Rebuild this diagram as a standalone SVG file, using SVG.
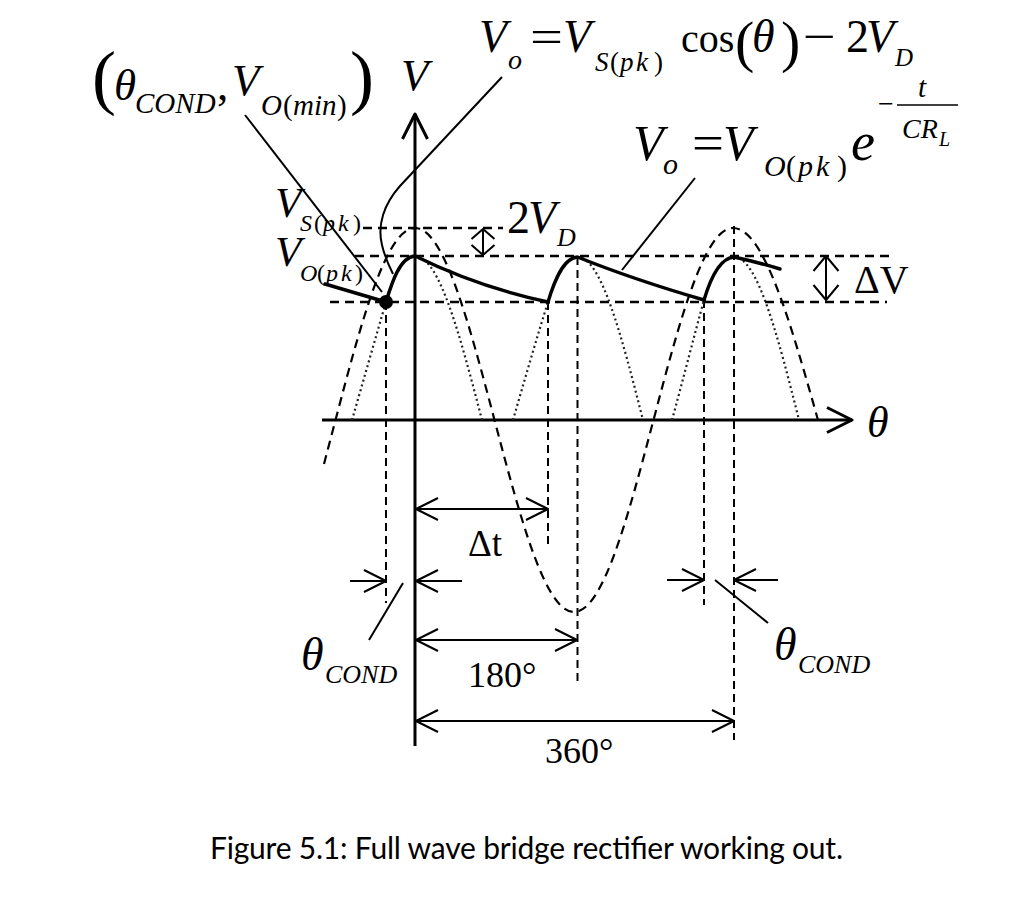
<svg xmlns="http://www.w3.org/2000/svg" width="1026" height="898" viewBox="0 0 1026 898">
<style>
.m{font-family:"Liberation Serif","Times New Roman",serif;fill:#000}
.i{font-style:italic}
.cap{font-family:Lato,"Open Sans","Liberation Sans",sans-serif;fill:#000}
.ax{stroke:#000;stroke-width:3;fill:none}
.hd{stroke:#000;stroke-width:2.5;stroke-dasharray:9 6;fill:none}
.vd{stroke:#000;stroke-width:2;stroke-dasharray:8 5;fill:none}
.sd{stroke:#000;stroke-width:2.2;stroke-dasharray:9 6;fill:none}
.dt{stroke:#222;stroke-width:2.2;stroke-dasharray:2 3;fill:none}
.so{stroke:#000;stroke-width:3.4;fill:none;stroke-linejoin:round;stroke-linecap:round}
.ld{stroke:#000;stroke-width:2;fill:none}
.dm{stroke:#000;stroke-width:2;fill:none}
</style>
<defs>
<marker id="axh" viewBox="-28 -15 30 30" refX="0" refY="0" markerWidth="30" markerHeight="30" markerUnits="userSpaceOnUse" orient="auto"><path d="M-25,-12.5 L0,0 L-25,12.5" fill="none" stroke="#000" stroke-width="3" stroke-linejoin="round"/></marker>
<marker id="oa" viewBox="-25 -14 27 28" refX="0" refY="0" markerWidth="27" markerHeight="28" markerUnits="userSpaceOnUse" orient="auto-start-reverse"><path d="M-22,-11 L0,0 L-22,11" fill="none" stroke="#000" stroke-width="2" stroke-linejoin="round"/></marker>
<marker id="sa" viewBox="-13 -14 15 28" refX="0" refY="0" markerWidth="15" markerHeight="28" markerUnits="userSpaceOnUse" orient="auto-start-reverse"><path d="M-10,-11.5 L0,0 L-10,11.5" fill="none" stroke="#000" stroke-width="2" stroke-linejoin="round"/></marker>
<marker id="ma" viewBox="-18 -15 20 30" refX="0" refY="0" markerWidth="20" markerHeight="30" markerUnits="userSpaceOnUse" orient="auto-start-reverse"><path d="M-15,-12.5 L0,0 L-15,12.5" fill="none" stroke="#000" stroke-width="2" stroke-linejoin="round"/></marker>
</defs>
<rect width="1026" height="898" fill="#fff"/>

<g id="axes">
<line class="ax" x1="415" y1="746" x2="415" y2="114" marker-end="url(#axh)"/>
<line class="ax" x1="322" y1="420" x2="852" y2="420" marker-end="url(#axh)"/>
</g>

<g id="reference-lines">
<line class="hd" x1="363" y1="228" x2="503" y2="228"/>
<line class="hd" x1="355" y1="256" x2="893" y2="256"/>
<line class="hd" x1="330" y1="302" x2="887" y2="302"/>
<line class="vd" x1="386" y1="302" x2="386" y2="603"/>
<line class="vd" x1="548" y1="302" x2="548" y2="547"/>
<line class="vd" x1="577.5" y1="257" x2="577.5" y2="683"/>
<line class="vd" x1="704" y1="300" x2="704" y2="605"/>
<line class="vd" x1="734" y1="226" x2="734" y2="740"/>
</g>

<g id="source-wave">
<path class="sd" d="M324,464 L335.5,420 C361.4,321.6 386.2,228 415,228 C443.8,228 468.6,321.6 494.5,420 C520.4,518.4 545.2,612 574,612 C602.8,612 627.6,518.4 653.5,420 C679.4,321.6 704.2,228 733,228 C763.8,228 790.2,321.6 818,420"/>
</g>

<g id="rectified-wave">
<path class="dt" d="M352,420 C363,382 376,336 386,302"/>
<path class="dt" d="M415,256 C439.2,256 460.1,336 482,420"/>
<path class="dt" d="M513,420 C524,382 537,337 548,302"/>
<path class="dt" d="M577.5,257 C601.2,257 621.6,336 643,420"/>
<path class="dt" d="M672,420 C682,384 694,336 704,300"/>
<path class="dt" d="M734,257 C757.5,257 777.8,336 799,420"/>
</g>

<g id="output-wave">
<path class="so" d="M325,284 L386,302 C392,282 400,257 415,256 Q478,287 548,302 C554,282 563,258 577.5,257 Q632,279 704,300 C710,280 719,258 734,257 Q757,262 780,269"/>
<circle cx="386" cy="302" r="7" fill="#000"/>
<circle cx="548" cy="302" r="2.2" fill="#000"/>
<circle cx="704" cy="300" r="2.2" fill="#000"/>
</g>

<g id="connectors">
<path class="ld" d="M245,115 L382,292"/>
<path class="ld" d="M502,77 L400,186 C384,204 377,225 382,245 C385,258 389,266 393,274"/>
<path class="ld" d="M695,178 L622,270"/>
<path class="ld" d="M403,583 L369,640"/>
<path class="ld" d="M715,580 L768,623"/>
<line class="dm" x1="483" y1="229" x2="483" y2="255" marker-start="url(#sa)" marker-end="url(#sa)"/>
<line class="dm" x1="826" y1="256" x2="826" y2="300" marker-start="url(#ma)" marker-end="url(#ma)"/>
<line class="dm" x1="416" y1="509" x2="548" y2="509" marker-start="url(#oa)" marker-end="url(#oa)"/>
<line class="dm" x1="416" y1="640" x2="577" y2="640" marker-start="url(#oa)" marker-end="url(#oa)"/>
<line class="dm" x1="416" y1="721" x2="734" y2="721" marker-start="url(#oa)" marker-end="url(#oa)"/>
<line class="dm" x1="350" y1="581" x2="386" y2="581" marker-end="url(#oa)"/>
<line class="dm" x1="462" y1="581" x2="416" y2="581" marker-end="url(#oa)"/>
<line class="dm" x1="667" y1="580" x2="704" y2="580" marker-end="url(#oa)"/>
<line class="dm" x1="778" y1="580" x2="734" y2="580" marker-end="url(#oa)"/>
</g>

<g id="label-vmin">
<text class="m" x="92" y="101" font-size="72">(</text>
<text class="m i" x="114" y="100" font-size="45">θ</text>
<text class="m i" x="135" y="113" font-size="29">COND</text>
<text class="m" x="217" y="100" font-size="45">,</text>
<text class="m i" x="232" y="95" font-size="45">V</text>
<text class="m" y="115" font-size="29"><tspan class="i" x="261">O</tspan><tspan x="283">(</tspan><tspan class="i" x="293">min</tspan><tspan x="337">)</tspan></text>
<text class="m" x="350" y="101" font-size="72">)</text>
</g>

<g id="label-axis-v">
<text class="m i" x="401" y="90" font-size="45">V</text>
</g>

<g id="label-formula-cos">
<text class="m i" x="479" y="52" font-size="46">V</text>
<text class="m i" x="508" y="69" font-size="28">o</text>
<text class="m" x="530" y="52" font-size="46" textLength="33" lengthAdjust="spacingAndGlyphs">=</text>
<text class="m i" x="563" y="52" font-size="46">V</text>
<text class="m" y="71" font-size="27"><tspan class="i" x="595">S</tspan><tspan x="610">(</tspan><tspan class="i" x="620">p</tspan><tspan class="i" x="636">k</tspan><tspan x="654">)</tspan></text>
<text class="m" x="681" y="52" font-size="40">cos</text>
<text class="m" x="735" y="61" font-size="58">(</text>
<text class="m i" x="752" y="52" font-size="46">θ</text>
<text class="m" x="781" y="61" font-size="58">)</text>
<text class="m" x="803" y="52" font-size="46" textLength="33" lengthAdjust="spacingAndGlyphs">−</text>
<text class="m" x="846" y="52" font-size="46">2</text>
<text class="m i" x="866" y="52" font-size="46">V</text>
<text class="m i" x="895" y="66" font-size="25">D</text>
</g>

<g id="label-formula-exp">
<text class="m i" x="633" y="160" font-size="50">V</text>
<text class="m i" x="663" y="174" font-size="30">o</text>
<text class="m" x="692" y="160" font-size="50" textLength="32" lengthAdjust="spacingAndGlyphs">=</text>
<text class="m i" x="723" y="160" font-size="50">V</text>
<text class="m" y="176" font-size="30"><tspan class="i" x="764">O</tspan><tspan x="786">(</tspan><tspan class="i" x="798">p</tspan><tspan class="i" x="816">k</tspan><tspan x="837">)</tspan></text>
<text class="m i" x="851" y="160" font-size="54">e</text>
<text class="m" x="878" y="113" font-size="28">−</text>
<line x1="897" y1="105" x2="958" y2="105" stroke="#000" stroke-width="1.5"/>
<text class="m i" x="918" y="97" font-size="29">t</text>
<text class="m i" x="902" y="138" font-size="28">CR</text>
<text class="m i" x="939" y="146" font-size="20">L</text>
</g>

<g id="label-vs-pk">
<text class="m i" x="275" y="217" font-size="43">V</text>
<text class="m" y="231" font-size="24"><tspan class="i" x="300">S</tspan><tspan x="314">(</tspan><tspan class="i" x="323">p</tspan><tspan class="i" x="338">k</tspan><tspan x="353">)</tspan></text>
</g>
<g id="label-vo-pk">
<text class="m i" x="275" y="266" font-size="43">V</text>
<text class="m" y="281" font-size="24"><tspan class="i" x="300">O</tspan><tspan x="317">(</tspan><tspan class="i" x="326">p</tspan><tspan class="i" x="341">k</tspan><tspan x="355">)</tspan></text>
</g>

<g id="label-2vd">
<text class="m" x="507" y="233" font-size="46">2</text>
<text class="m i" x="528" y="233" font-size="46">V</text>
<text class="m i" x="557" y="246" font-size="26">D</text>
</g>

<g id="label-theta-axis">
<text class="m i" x="867" y="437" font-size="44">θ</text>
</g>

<g id="label-dv">
<text class="m" x="854" y="293" font-size="40">ΔV</text>
</g>

<g id="label-dt">
<text class="m" x="468" y="556" font-size="37">Δt</text>
</g>

<g id="label-180">
<text class="m" x="468" y="687" font-size="36">180°</text>
</g>

<g id="label-360">
<text class="m" x="545" y="763" font-size="36">360°</text>
</g>

<g id="label-cond-left">
<text class="m i" x="301" y="670" font-size="46">θ</text>
<text class="m i" x="325" y="683" font-size="26">COND</text>
</g>

<g id="label-cond-right">
<text class="m i" x="774" y="660" font-size="46">θ</text>
<text class="m i" x="798" y="673" font-size="26">COND</text>
</g>

<g id="caption">
<text class="cap" x="210" y="859" font-size="30" textLength="633" lengthAdjust="spacing">Figure 5.1: Full wave bridge rectifier working out.</text>
</g>
</svg>
